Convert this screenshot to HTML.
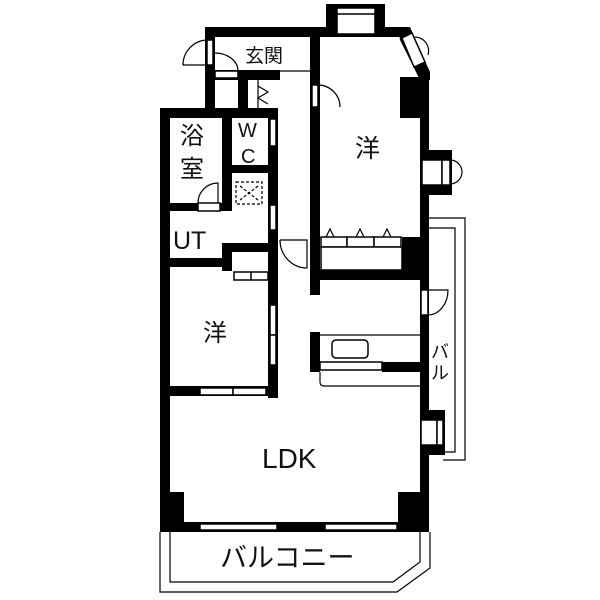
<!DOCTYPE html>
<html><head><meta charset="utf-8"><style>
html,body{margin:0;padding:0;background:#fff}
svg{display:block}
text{font-family:"Liberation Sans","Noto Sans CJK JP",sans-serif;fill:#111}
</style></head><body>
<svg width="600" height="600" viewBox="0 0 600 600" xmlns="http://www.w3.org/2000/svg">
<g fill="#000">
<rect x="326" y="4" width="59" height="33"/>
<rect x="205" y="27" width="200" height="10"/>
<polygon points="398,27 410,27 430,72 430,80 420,80 400,40"/>
<rect x="205" y="27" width="10" height="82"/>
<rect x="215" y="70" width="65" height="10"/>
<rect x="238" y="80" width="10" height="30"/>
<rect x="160" y="108" width="10" height="424"/>
<rect x="160" y="108" width="118" height="10"/>
<rect x="222" y="108" width="10" height="102"/>
<rect x="170" y="203" width="28" height="8"/>
<rect x="220" y="203" width="12" height="8"/>
<rect x="232" y="165" width="38" height="8"/>
<rect x="268" y="108" width="10" height="290"/>
<rect x="170" y="258" width="62" height="9"/>
<rect x="222" y="243" width="10" height="28"/>
<rect x="222" y="243" width="50" height="9"/>
<rect x="160" y="386" width="118" height="10"/>
<rect x="310" y="37" width="10" height="258"/>
<rect x="420" y="72" width="9" height="460"/>
<rect x="400" y="77" width="22" height="41"/>
<rect x="402" y="237" width="20" height="43"/>
<rect x="310" y="270" width="112" height="10"/>
<rect x="310" y="332" width="10" height="40"/>
<rect x="382" y="362" width="40" height="10"/>
<rect x="420" y="150" width="32" height="45"/>
<rect x="420" y="410" width="25" height="45"/>
<rect x="170" y="492" width="14" height="40"/>
<rect x="398" y="492" width="24" height="40"/>
<rect x="160" y="522" width="269" height="10"/>
</g>
<g fill="#fff" stroke="#000" stroke-width="1.5">
<rect x="337" y="8" width="38" height="26"/>
<line x1="337" y1="14" x2="375" y2="14"/>
<polygon points="402,38 412,33 425,62 414,67"/>
<rect x="207" y="40" width="6" height="25" />
<rect x="215" y="71" width="23" height="7"/>
<rect x="312" y="85" width="6" height="22"/>
<rect x="270" y="119" width="6" height="27"/>
<rect x="270" y="205" width="6" height="25"/>
<rect x="270" y="305" width="6" height="30"/>
<rect x="270" y="335" width="6" height="30"/>
<rect x="198" y="203" width="22" height="8"/>
<rect x="234" y="272" width="34" height="8"/>
<line x1="251" y1="272" x2="251" y2="280"/>
<rect x="200" y="388" width="33" height="7"/>
<rect x="233" y="388" width="33" height="7"/>
<rect x="422" y="160" width="20" height="25"/>
<rect x="442" y="160" width="8" height="25"/>
<rect x="421" y="290" width="7" height="25"/>
<rect x="421" y="420" width="16" height="25"/>
<rect x="437" y="420" width="6" height="25"/>
<rect x="200" y="524" width="77" height="6"/>
<rect x="325" y="524" width="72" height="6"/>
<rect x="321" y="237" width="26" height="10"/>
<rect x="347" y="237" width="27" height="10"/>
<rect x="374" y="237" width="27" height="10"/>
<rect x="321" y="247" width="81" height="23"/>
<rect x="320" y="362" width="62" height="8"/>
<rect x="332" y="340" width="36" height="18" rx="4"/>
</g>
<g fill="none" stroke="#000" stroke-width="1.2">
<path d="M207,40 A25,25 0 0 0 183,65 L207,65"/>
<path d="M215,53 A23,18 0 0 1 238,71"/>
<path d="M318,85 A22,22 0 0 1 340,107"/>
<path d="M198,203 A20,20 0 0 1 218,183 L218,203"/>
<path d="M428,290 L448,290 A20,25 0 0 1 428,315"/>
<path d="M450,160 A12,12 0 0 1 450,184"/>
<path d="M415,37 A14,14 0 0 1 428,55"/>
<path d="M280,240 L307,240 L307,268 A27,28 0 0 1 280,240"/>
<line x1="280" y1="71" x2="310" y2="71"/>
<path d="M258,80 L258,108 M258,86 L268,92 L258,98 L268,104"/>
<path d="M320,335 L420,335 M320,372 L320,382 Q320,386 324,386 L420,386"/>
<path d="M326,237 L330,229 L334,237 M356,237 L360,229 L364,237 M383,237 L387,229 L391,237"/>
<rect x="236" y="182" width="26" height="22" stroke-dasharray="3,2"/>
<path d="M240,186 L258,200 M258,186 L240,200" stroke-dasharray="3,2"/>
<path d="M429,218 L465,218 L465,460 L443,460"/>
<path d="M429,228 L455,228 L455,452 L443,452"/>
<path d="M160,532 L160,592 L397,592 L430,568 L430,532"/>
<path d="M170,532 L170,582 L393,582 L420,562 L420,532"/>
</g>
<text x="245" y="62" font-size="19">玄関</text>
<text x="355" y="157" font-size="25">洋</text>
<text x="180" y="144" font-size="24">浴</text>
<text x="180" y="177" font-size="24">室</text>
<text x="238" y="137" font-size="20">W</text>
<text x="241" y="163" font-size="20">C</text>
<text x="173" y="249" font-size="25">UT</text>
<text x="203" y="341" font-size="24">洋</text>
<text x="262" y="468" font-size="28">LDK</text>
<text x="431" y="358" font-size="18">バ</text>
<text x="431" y="379" font-size="18">ル</text>
<text x="220" y="567" font-size="27">バルコニー</text>
</svg>
</body></html>
